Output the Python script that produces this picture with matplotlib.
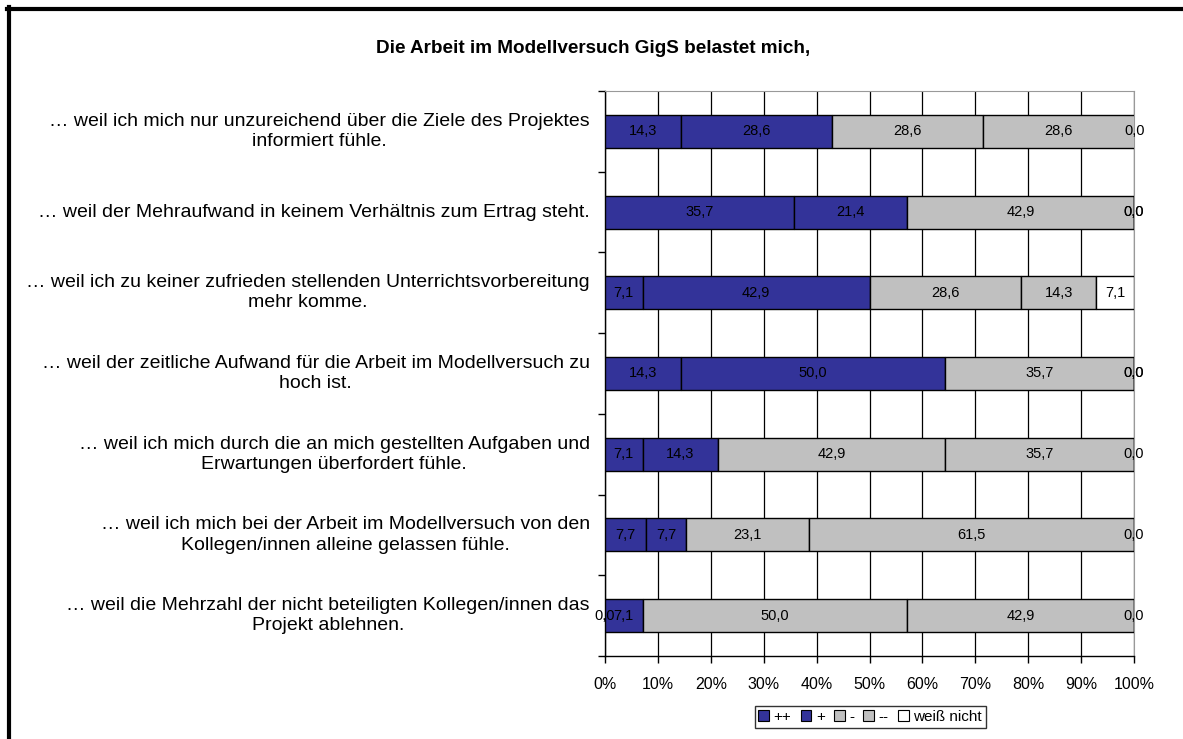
import matplotlib.pyplot as plt
from matplotlib.lines import Line2D
from matplotlib.patches import Patch

plt.rcParams['font.family'] = ['Liberation Sans', 'DejaVu Sans']

titel = "Die Arbeit im Modellversuch GigS belastet mich,"
aussagen = [
    "… weil ich mich nur unzureichend über die Ziele des Projektes\ninformiert fühle.",
    "… weil der Mehraufwand in keinem Verhältnis zum Ertrag steht.",
    "… weil ich zu keiner zufrieden stellenden Unterrichtsvorbereitung\nmehr komme.",
    "… weil der zeitliche Aufwand für die Arbeit im Modellversuch zu\nhoch ist.",
    "… weil ich mich durch die an mich gestellten Aufgaben und\nErwartungen überfordert fühle.",
    "… weil ich mich bei der Arbeit im Modellversuch von den\nKollegen/innen alleine gelassen fühle.",
    "… weil die Mehrzahl der nicht beteiligten Kollegen/innen das\nProjekt ablehnen.",
]
kategorien = ["++", "+", "-", "--", "weiß nicht"]
sehr = [14.3, 35.7, 7.1, 14.3, 7.1, 7.7, 0.0]
eher = [28.6, 21.4, 42.9, 50.0, 14.3, 7.7, 7.1]
kaum = [28.6, 42.9, 28.6, 35.7, 42.9, 23.1, 50.0]
gar_nicht = [28.6, 0.0, 14.3, 0.0, 35.7, 61.5, 42.9]
weiss_nicht = [0.0, 0.0, 7.1, 0.0, 0.0, 0.0, 0.0]
farben = ["#333399", "#333399", "#c0c0c0", "#c0c0c0", "#ffffff"]

reihen = [sehr, eher, kaum, gar_nicht, weiss_nicht]

fig = plt.figure(figsize=(11.83, 7.39), dpi=100)
ax = fig.add_axes([0.5114, 0.1123, 0.4472, 0.7646])

y = list(range(len(aussagen)))
links = [0.0] * len(aussagen)
for werte, farbe in zip(reihen, farben):
    ax.barh(y, werte, left=links, height=0.41, color=farbe,
            edgecolor="black", linewidth=1, zorder=3)
    for i, w in enumerate(werte):
        ax.text(links[i] + w / 2, y[i], f"{w:.1f}".replace(".", ","),
                ha="center", va="center", fontsize=10.5, zorder=4)
    links = [l + w for l, w in zip(links, werte)]

ax.set_xlim(0, 100)
ax.set_ylim(len(aussagen) - 0.5, -0.5)
ax.set_xticks(range(0, 101, 10))
ax.set_xticklabels([f"{t}%" for t in range(0, 101, 10)], fontsize=11.5)
ax.set_yticks([i - 0.5 for i in range(len(aussagen) + 1)])
ax.set_yticklabels([])
ax.tick_params(axis="both", length=5, width=1, color="black")
ax.tick_params(axis="x", pad=10)
for i, txt in enumerate(aussagen):
    ax.text(-2.9, i, txt, ha="right", va="center", multialignment="center",
            fontsize=14, linespacing=1.25)

ax.grid(axis="x", color="black", linewidth=0.9, zorder=0)
ax.spines["top"].set_color("#999999")
ax.spines["right"].set_color("#999999")
ax.spines["left"].set_linewidth(1)
ax.spines["bottom"].set_linewidth(1)

fig.text(0.501, 0.935, titel, ha="center", va="center", fontsize=13.6, fontweight="bold")

handles = [Patch(facecolor=f, edgecolor="black", linewidth=0.8) for f in farben]
fig.legend(handles, kategorien, loc="center", bbox_to_anchor=(0.7355, 0.0297),
           ncol=5, fontsize=11, frameon=True, fancybox=False, edgecolor="black",
           handlelength=0.7, handleheight=0.7, handletextpad=0.3, columnspacing=0.6,
           borderpad=0.25, borderaxespad=0)

# Rahmen oben und links
fig.add_artist(Line2D([7 / 1183, 1.0], [1 - 9 / 739, 1 - 9 / 739], color="black",
                      linewidth=3, transform=fig.transFigure))
fig.add_artist(Line2D([9 / 1183, 9 / 1183], [1 - 7 / 739, 0.0], color="black",
                      linewidth=3, transform=fig.transFigure))

fig.savefig("out.png", dpi=100)
